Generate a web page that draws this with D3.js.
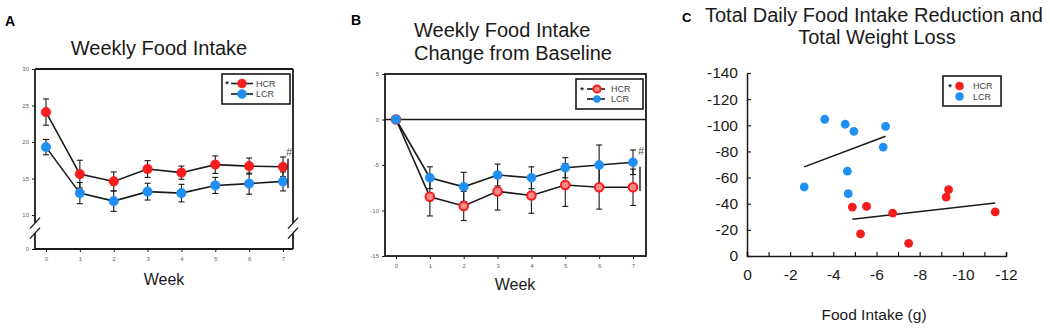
<!DOCTYPE html>
<html>
<head>
<meta charset="utf-8">
<script src="https://cdn.jsdelivr.net/npm/d3@7"></script>
<style>
  html, body { margin: 0; padding: 0; background: #fff; }
  svg { display: block; font-family: "Liberation Sans", Arial, sans-serif; }
</style>
</head>
<body>
<svg id="chart" width="1050" height="329"></svg>
<script>
// ---------- DATA ----------
const weeks = [0, 1, 2, 3, 4, 5, 6, 7];
const hcrIntake = [24.1, 15.6, 14.6, 16.3, 15.8, 16.9, 16.7, 16.6];
const hcrIntakeSem = [1.8, 1.9, 1.3, 1.15, 0.9, 1.2, 1.1, 1.35];
const lcrIntake = [19.3, 13.0, 11.9, 13.2, 13.0, 14.05, 14.3, 14.6];
const lcrIntakeSem = [1.05, 1.45, 1.4, 1.15, 1.2, 1.1, 1.45, 1.3];

const hcrChange = [0, -8.5, -9.5, -7.9, -8.35, -7.2, -7.45, -7.45];
const hcrChangeSem = [0, 2.1, 1.6, 2.05, 1.95, 2.35, 2.4, 2.0];
const lcrChange = [0, -6.4, -7.4, -6.1, -6.4, -5.3, -5.0, -4.7];
const lcrChangeSem = [0, 1.2, 1.6, 1.2, 1.2, 1.1, 2.2, 1.35];

const hcrFood = [-4.88, -5.54, -5.26, -6.75, -7.49, -9.23, -9.34, -11.5];
const hcrWeight = [-37.4, -37.9, -16.9, -32.8, -9.7, -45.1, -50.8, -33.8];
const lcrFood = [-2.65, -3.6, -4.55, -4.95, -6.42, -6.31, -4.65, -4.69];
const lcrWeight = [-52.8, -104.6, -100.8, -95.4, -99.2, -83.3, -64.9, -47.7];

const intakeTicks = [0, 10, 15, 20, 25, 30];
const changeTicks = [-15, -10, -5, 0, 5];
const scatterXTicks = [0, -2, -4, -6, -8, -10, -12];
const scatterXMinor = [0, -1, -2, -3, -4, -5, -6, -7, -8, -9, -10, -11, -12];
const scatterYTicks = [0, -20, -40, -60, -80, -100, -120, -140];
const seriesNames = ["HCR", "LCR"];

// ---------- STYLE ----------
const RED = "#f51d1d", BLUE = "#1f8ff2", INK = "#1a1a1a";
const FONT = "Liberation Sans, Arial, sans-serif";
const fmt = d => String(d);
const svg = d3.select("#chart");

function seriesPoints(means, sems) {
  return weeks.map((w, i) => ({ w, v: means[i], s: sems[i] }));
}
function drawErrorLine(g, x, y, pts) {
  const cap = 3;
  const eb = g.append("g");
  pts.filter(d => d.s > 0).forEach(d => {
    eb.append("line").attr("x1", x(d.w)).attr("x2", x(d.w))
      .attr("y1", y(d.v - d.s)).attr("y2", y(d.v + d.s))
      .attr("stroke", INK).attr("stroke-width", 1.1);
    [d.v - d.s, d.v + d.s].forEach(e => {
      eb.append("line").attr("x1", x(d.w) - cap).attr("x2", x(d.w) + cap)
        .attr("y1", y(e)).attr("y2", y(e))
        .attr("stroke", INK).attr("stroke-width", 1.1);
    });
  });
  g.append("path").datum(pts)
    .attr("d", d3.line().x(d => x(d.w)).y(d => y(d.v)))
    .attr("fill", "none").attr("stroke", INK).attr("stroke-width", 1.6);
}
function drawMarkers(g, x, y, pts, color, r, hollow) {
  g.append("g").selectAll("circle").data(pts).join("circle")
    .attr("cx", d => x(d.w)).attr("cy", d => y(d.v)).attr("r", r)
    .attr("fill", hollow ? "#ff8a8a" : color)
    .attr("stroke", color).attr("stroke-width", hollow ? 2 : 0.5);
}
function smallAxisStyle(s) {
  s.select(".domain").remove();
  s.selectAll("text").attr("font-size", 6).attr("fill", "#666").attr("font-family", FONT);
  s.selectAll("line").attr("stroke", INK);
}
function legendBox(g, x0, y0, w, h, rows, withLines, r, hollowFirst) {
  g.append("rect").attr("x", x0).attr("y", y0).attr("width", w).attr("height", h)
    .attr("fill", "#fff").attr("stroke", INK).attr("stroke-width", 1.6);
  rows.forEach((row, i) => {
    if (row.star) g.append("text").attr("x", row.starX).attr("y", row.y + 3.5)
      .attr("font-size", 9).attr("font-weight", "bold").attr("fill", INK).attr("text-anchor", "middle").text("*");
    if (withLines) g.append("line").attr("x1", row.lx1).attr("x2", row.lx2).attr("y1", row.y).attr("y2", row.y)
      .attr("stroke", INK).attr("stroke-width", 1.6);
    g.append("circle").attr("cx", row.mx).attr("cy", row.y).attr("r", r)
      .attr("fill", (hollowFirst && i === 0) ? "#ff8a8a" : row.color)
      .attr("stroke", row.color).attr("stroke-width", (hollowFirst && i === 0) ? 2 : 0.5);
    g.append("text").attr("x", row.tx).attr("y", row.y + 3.2).attr("font-size", 9)
      .attr("fill", "#444").text(row.label);
  });
}

// ---------- PANEL A ----------
(function () {
  const g = svg.append("g");
  const L = 35, R = 293, T = 69, B = 249;
  const x = d3.scaleLinear().domain([0, 7]).range([46, 283]);
  const y = d3.scaleLinear().domain([0, 10, 30]).range([B, 215, T]);
  g.append("text").attr("x", 5).attr("y", 26).attr("font-size", 14).attr("font-weight", "bold").text("A");
  g.append("text").attr("x", 159).attr("y", 55).attr("font-size", 20).attr("text-anchor", "middle").attr("fill", INK).text("Weekly Food Intake");

  const c = y(6);
  const fr = g.append("g").attr("stroke", INK).attr("stroke-width", 1.8).attr("fill", "none");
  fr.append("line").attr("x1", L).attr("x2", R).attr("y1", T).attr("y2", T);
  fr.append("line").attr("x1", L).attr("x2", R).attr("y1", B).attr("y2", B);
  [L, R].forEach(xx => {
    fr.append("line").attr("x1", xx).attr("x2", xx).attr("y1", T).attr("y2", c - 5.5);
    fr.append("line").attr("x1", xx).attr("x2", xx).attr("y1", c + 4.5).attr("y2", B);
    fr.append("line").attr("x1", xx - 5).attr("x2", xx + 5).attr("y1", c).attr("y2", c - 11).attr("stroke-width", 1.4);
    fr.append("line").attr("x1", xx - 5).attr("x2", xx + 5).attr("y1", c + 10).attr("y2", c - 1).attr("stroke-width", 1.4);
  });
  g.append("g").attr("transform", `translate(${L},0)`)
    .call(d3.axisLeft(y).tickValues(intakeTicks).tickSize(3).tickSizeOuter(0).tickFormat(fmt))
    .call(smallAxisStyle);
  g.append("g").attr("transform", `translate(0,${B})`)
    .call(d3.axisBottom(x).tickValues(weeks).tickSize(3).tickSizeOuter(0).tickPadding(5).tickFormat(fmt))
    .call(smallAxisStyle);
  g.append("text").attr("x", 164).attr("y", 285).attr("font-size", 16).attr("text-anchor", "middle").attr("fill", INK).text("Week");

  const ph = seriesPoints(hcrIntake, hcrIntakeSem), pl = seriesPoints(lcrIntake, lcrIntakeSem);
  drawErrorLine(g, x, y, ph);
  drawErrorLine(g, x, y, pl);
  drawMarkers(g, x, y, ph, RED, 4.8, false);
  drawMarkers(g, x, y, pl, BLUE, 4.8, false);

  g.append("line").attr("x1", 288).attr("x2", 288)
    .attr("y1", y(hcrIntake[7] + 1.1)).attr("y2", y(lcrIntake[7] - 0.9))
    .attr("stroke", INK).attr("stroke-width", 1.4);
  g.append("text").attr("x", 289).attr("y", y(hcrIntake[7] + 1.5)).attr("font-size", 11)
    .attr("text-anchor", "middle").attr("fill", "#555").text("#");

  legendBox(g, 222, 74, 68, 30, [
    { star: true, starX: 227, y: 83.5, lx1: 231, lx2: 253, mx: 242, tx: 256, label: seriesNames[0], color: RED },
    { star: false, y: 94, lx1: 231, lx2: 253, mx: 242, tx: 256, label: seriesNames[1], color: BLUE }
  ], true, 4.5, false);
})();

// ---------- PANEL B ----------
(function () {
  const g = svg.append("g");
  const L = 385, R = 646, T = 74, B = 256;
  const x = d3.scaleLinear().domain([0, 7]).range([396, 633]);
  const y = d3.scaleLinear().domain([-15, 5]).range([B, T]);
  g.append("text").attr("x", 351).attr("y", 25).attr("font-size", 14).attr("font-weight", "bold").text("B");
  g.append("text").attr("x", 414).attr("y", 37).attr("font-size", 20).attr("fill", INK).text("Weekly Food Intake");
  g.append("text").attr("x", 414).attr("y", 60).attr("font-size", 20).attr("fill", INK).text("Change from Baseline");

  g.append("rect").attr("x", L).attr("y", T).attr("width", R - L).attr("height", B - T)
    .attr("fill", "none").attr("stroke", INK).attr("stroke-width", 1.8);
  g.append("line").attr("x1", L).attr("x2", R).attr("y1", y(0)).attr("y2", y(0))
    .attr("stroke", INK).attr("stroke-width", 1.6);
  g.append("g").attr("transform", `translate(${L},0)`)
    .call(d3.axisLeft(y).tickValues(changeTicks).tickSize(3).tickSizeOuter(0).tickFormat(fmt))
    .call(smallAxisStyle);
  g.append("g").attr("transform", `translate(0,${B})`)
    .call(d3.axisBottom(x).tickValues(weeks).tickSize(3).tickSizeOuter(0).tickPadding(5).tickFormat(fmt))
    .call(smallAxisStyle);
  g.append("text").attr("x", 515).attr("y", 290).attr("font-size", 16).attr("text-anchor", "middle").attr("fill", INK).text("Week");

  const ph = seriesPoints(hcrChange, hcrChangeSem), pl = seriesPoints(lcrChange, lcrChangeSem);
  drawErrorLine(g, x, y, ph);
  drawErrorLine(g, x, y, pl);
  drawMarkers(g, x, y, ph, RED, 4.3, true);
  drawMarkers(g, x, y, pl, BLUE, 4.6, false);

  g.append("line").attr("x1", 640).attr("x2", 640)
    .attr("y1", y(lcrChange[7] - 0.5)).attr("y2", y(hcrChange[7] - 0.4))
    .attr("stroke", INK).attr("stroke-width", 1.4);
  g.append("text").attr("x", 641).attr("y", y(lcrChange[7] + 0.8)).attr("font-size", 11)
    .attr("text-anchor", "middle").attr("fill", "#555").text("#");

  legendBox(g, 576, 79, 67, 30, [
    { star: true, starX: 582, y: 89, lx1: 587, lx2: 605, mx: 597, tx: 611, label: seriesNames[0], color: RED },
    { star: false, y: 99, lx1: 587, lx2: 605, mx: 597, tx: 611, label: seriesNames[1], color: BLUE }
  ], true, 3.6, true);
})();

// ---------- PANEL C ----------
(function () {
  const g = svg.append("g");
  const x = d3.scaleLinear().domain([0, -12]).range([747, 1006]);
  const y = d3.scaleLinear().domain([0, -140]).range([256, 73]);
  g.append("text").attr("x", 682).attr("y", 22).attr("font-size", 13).attr("font-weight", "bold").text("C");
  g.append("text").attr("x", 874).attr("y", 21.5).attr("font-size", 20).attr("text-anchor", "middle").attr("fill", INK).text("Total Daily Food Intake Reduction and");
  g.append("text").attr("x", 877).attr("y", 43.5).attr("font-size", 20).attr("text-anchor", "middle").attr("fill", INK).text("Total Weight Loss");

  g.append("g").attr("transform", `translate(0,256)`)
    .call(d3.axisBottom(x).tickValues(scatterXMinor).tickSize(-4).tickFormat(""))
    .call(s => s.select(".domain").attr("stroke", INK).attr("stroke-width", 1.5))
    .call(s => s.selectAll("line").attr("stroke", INK).attr("stroke-width", 1.2));
  g.append("g").attr("transform", `translate(0,256)`)
    .call(d3.axisBottom(x).tickValues(scatterXTicks).tickSize(0).tickPadding(13).tickFormat(fmt))
    .call(s => s.select(".domain").remove())
    .call(s => s.selectAll("text").attr("font-size", 15.5).attr("fill", INK).attr("font-family", FONT));
  g.append("g").attr("transform", `translate(747,0)`)
    .call(d3.axisLeft(y).tickValues(scatterYTicks).tickSize(-4).tickSizeOuter(0).tickPadding(9).tickFormat(fmt))
    .call(s => s.select(".domain").attr("stroke", INK).attr("stroke-width", 1.5))
    .call(s => s.selectAll("line").attr("stroke", INK).attr("stroke-width", 1.2))
    .call(s => s.selectAll("text").attr("font-size", 15.5).attr("fill", INK).attr("font-family", FONT));
  g.append("text").attr("x", 874).attr("y", 320).attr("font-size", 15.5).attr("text-anchor", "middle").attr("fill", INK).text("Food Intake (g)");

  function fit(xs, ys) {
    const mx = d3.mean(xs), my = d3.mean(ys);
    const b = d3.sum(xs, (v, i) => (v - mx) * (ys[i] - my)) / d3.sum(xs, v => (v - mx) ** 2);
    const [x0, x1] = d3.extent(xs);
    return [[x0, my + b * (x0 - mx)], [x1, my + b * (x1 - mx)]];
  }
  [[lcrFood, lcrWeight], [hcrFood, hcrWeight]].forEach(([xs, ys]) => {
    g.append("path").datum(fit(xs, ys))
      .attr("d", d3.line().x(d => x(d[0])).y(d => y(d[1])))
      .attr("stroke", INK).attr("stroke-width", 1.6).attr("fill", "none");
  });
  g.append("g").selectAll("circle").data(lcrFood.map((v, i) => [v, lcrWeight[i]])).join("circle")
    .attr("cx", d => x(d[0])).attr("cy", d => y(d[1])).attr("r", 4.4).attr("fill", BLUE);
  g.append("g").selectAll("circle").data(hcrFood.map((v, i) => [v, hcrWeight[i]])).join("circle")
    .attr("cx", d => x(d[0])).attr("cy", d => y(d[1])).attr("r", 4.4).attr("fill", RED);

  legendBox(g, 943, 76, 58, 30, [
    { star: true, starX: 950, y: 86, mx: 959.5, tx: 973, label: seriesNames[0], color: RED },
    { star: false, y: 96.5, mx: 959.5, tx: 973, label: seriesNames[1], color: BLUE }
  ], false, 4, false);
})();
</script>
</body>
</html>
